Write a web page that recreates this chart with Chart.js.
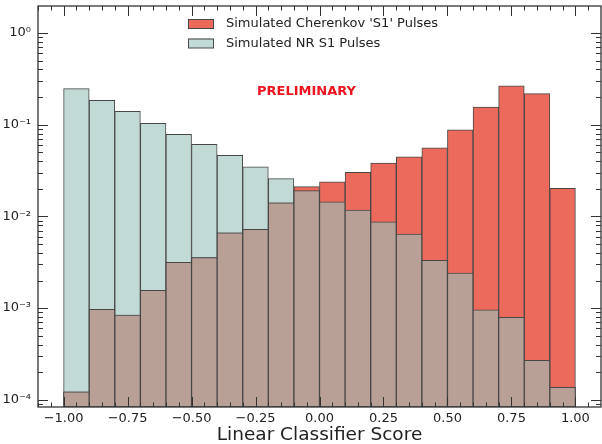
<!DOCTYPE html>
<html>
<head>
<meta charset="utf-8">
<script src="https://cdn.jsdelivr.net/npm/chart.js@4.4.1/dist/chart.umd.min.js"></script>
<style>
  html, body { margin: 0; padding: 0; background: #fff; }
  #wrap { width: 602px; height: 444px; }
</style>
</head>
<body>
<div id="wrap"><canvas id="histo" width="602" height="444"></canvas></div>
<script>
// bins de largeur 0.1 entre -1 et 1 (centres)
const binCenters = [-0.95, -0.85, -0.75, -0.65, -0.55, -0.45, -0.35, -0.25, -0.15, -0.05,
                     0.05,  0.15,  0.25,  0.35,  0.45,  0.55,  0.65,  0.75,  0.85,  0.95];

// Simulated Cherenkov 'S1' Pulses
const cherenkov = [0.000122, 0.00097, 0.00084, 0.00156, 0.00316, 0.00355, 0.00664, 0.00723, 0.0141, 0.0211,
                   0.0239, 0.0303, 0.0382, 0.0445, 0.0561, 0.0882, 0.156, 0.266, 0.218, 0.0202];

// Simulated NR S1 Pulses
const nrPulses = [0.247, 0.184, 0.14, 0.1035, 0.0785, 0.061, 0.0464, 0.0348, 0.0258, 0.0191,
                  0.0144, 0.0117, 0.00875, 0.0064, 0.00332, 0.00241, 0.000955, 0.000794, 0.000269, 0.000137];

const xTickLabels = [-1, -0.75, -0.5, -0.25, 0, 0.25, 0.5, 0.75, 1];
const yTickLabels = [1e-4, 1e-3, 1e-2, 1e-1, 1];

const RED = '#eb6a5b';
const TEAL = '#c2dad6';
const BROWN = '#b8a096';
const EDGE = '#474747';

// zone de recouvrement des deux histogrammes
const overlap = cherenkov.map((v, i) => Math.min(v, nrPulses[i]));

function pts(arr) {
    return arr.map((v, i) => ({x: binCenters[i], y: v}));
}

const sup = {'-': '\u207B', '0': '\u2070', '1': '\u00B9', '2': '\u00B2', '3': '\u00B3', '4': '\u2074', '5': '\u2075'};
function powLabel(v) {
    const e = String(Math.round(Math.log10(v)));
    return '10' + e.split('').map(c => sup[c]).join('');
}

const font = "'DejaVu Sans', sans-serif";

// cadre, ticks interieurs style matplotlib, legende et texte
const decorPlugin = {
    id: 'decor',
    afterDatasetsDraw(chart) {
        const ctx = chart.ctx;
        const a = chart.chartArea;
        const xs = chart.scales.x;
        const ys = chart.scales.y;
        ctx.save();
        ctx.strokeStyle = '#333';
        ctx.lineWidth = 1;

        // ticks x
        ctx.beginPath();
        for (let k = -22; k <= 22; k++) {
            const v = k * 0.05;
            const px = Math.round(xs.getPixelForValue(v)) + 0.5;
            if (px < a.left || px > a.right) continue;
            const major = xTickLabels.some(t => Math.abs(t - v) < 1e-9);
            const len = major ? 10 : 4.5;
            ctx.moveTo(px, a.bottom); ctx.lineTo(px, a.bottom - len);
            ctx.moveTo(px, a.top); ctx.lineTo(px, a.top + len);
        }
        // ticks y
        for (let e = -5; e <= 0; e++) {
            for (let m = 1; m <= 9; m++) {
                const v = m * Math.pow(10, e);
                if (v < ys.min || v > ys.max) continue;
                const py = Math.round(ys.getPixelForValue(v)) + 0.5;
                const len = m === 1 ? 10 : 5;
                ctx.moveTo(a.left, py); ctx.lineTo(a.left + len, py);
                ctx.moveTo(a.right, py); ctx.lineTo(a.right - len, py);
            }
        }
        ctx.stroke();

        // cadre
        ctx.lineWidth = 1.3;
        ctx.strokeStyle = '#333';
        ctx.strokeRect(a.left, a.top, a.right - a.left, a.bottom - a.top);

        // legende
        const items = [chart.data.datasets[1], chart.data.datasets[2]];
        ctx.font = '13px ' + font;
        ctx.textBaseline = 'middle';
        ctx.textAlign = 'left';
        items.forEach((ds, i) => {
            const y = 19 + i * 19.5;
            ctx.fillStyle = ds.backgroundColor;
            ctx.fillRect(188, y, 26, 9.5);
            ctx.lineWidth = 1;
            ctx.strokeStyle = EDGE;
            ctx.strokeRect(188.5, y + 0.5, 25, 9);
            ctx.fillStyle = '#222';
            ctx.fillText(ds.label, 226, y + 5);
        });

        ctx.font = 'bold 13px ' + font;
        ctx.fillStyle = '#ee1520';
        ctx.textAlign = 'center';
        ctx.fillText('PRELIMINARY', 306.5, 92);
        ctx.restore();
    }
};

new Chart(document.getElementById('histo'), {
    type: 'bar',
    data: {
        datasets: [
            {
                label: 'overlap',
                data: pts(overlap),
                backgroundColor: BROWN,
                borderColor: EDGE,
                borderWidth: 1,
                borderSkipped: false,
                grouped: false,
                order: 0
            },
            {
                label: "Simulated Cherenkov 'S1' Pulses",
                data: pts(cherenkov),
                backgroundColor: RED,
                borderColor: EDGE,
                borderWidth: 1,
                borderSkipped: false,
                grouped: false,
                order: 1
            },
            {
                label: 'Simulated NR S1 Pulses',
                data: pts(nrPulses),
                backgroundColor: TEAL,
                borderColor: EDGE,
                borderWidth: 1,
                borderSkipped: false,
                grouped: false,
                order: 2
            }
        ]
    },
    options: {
        responsive: false,
        animation: false,
        barPercentage: 1,
        categoryPercentage: 1,
        layout: { padding: { top: 6, right: 1, left: 0, bottom: 0 } },
        plugins: {
            legend: { display: false },
            tooltip: { enabled: false }
        },
        scales: {
            x: {
                type: 'linear',
                min: -1.1,
                max: 1.1,
                offset: false,
                grid: { display: false, drawTicks: false },
                border: { display: false },
                afterBuildTicks: s => { s.ticks = xTickLabels.map(v => ({value: v})); },
                afterFit: s => { s.height = 37; s.paddingLeft = 0; s.paddingRight = 0; },
                ticks: {
                    padding: 4,
                    autoSkip: false,
                    maxRotation: 0,
                    color: '#222',
                    font: { family: font, size: 13 },
                    callback: v => v.toFixed(2).replace('-', '\u2212')
                },
                title: {
                    display: true,
                    text: 'Linear Classifier Score',
                    color: '#222',
                    font: { family: font, size: 18.5, lineHeight: 1 },
                    padding: 0
                }
            },
            y: {
                type: 'logarithmic',
                min: 8.35e-5,
                max: 1.97,
                grid: { display: false, drawTicks: false },
                border: { display: false },
                afterBuildTicks: s => { s.ticks = yTickLabels.map(v => ({value: v})); },
                afterFit: s => { s.width = 38; s.paddingTop = 0; s.paddingBottom = 0; },
                ticks: {
                    padding: 7,
                    autoSkip: false,
                    color: '#222',
                    font: { family: font, size: 13 },
                    callback: v => powLabel(v)
                }
            }
        }
    },
    plugins: [decorPlugin]
});
</script>
</body>
</html>
